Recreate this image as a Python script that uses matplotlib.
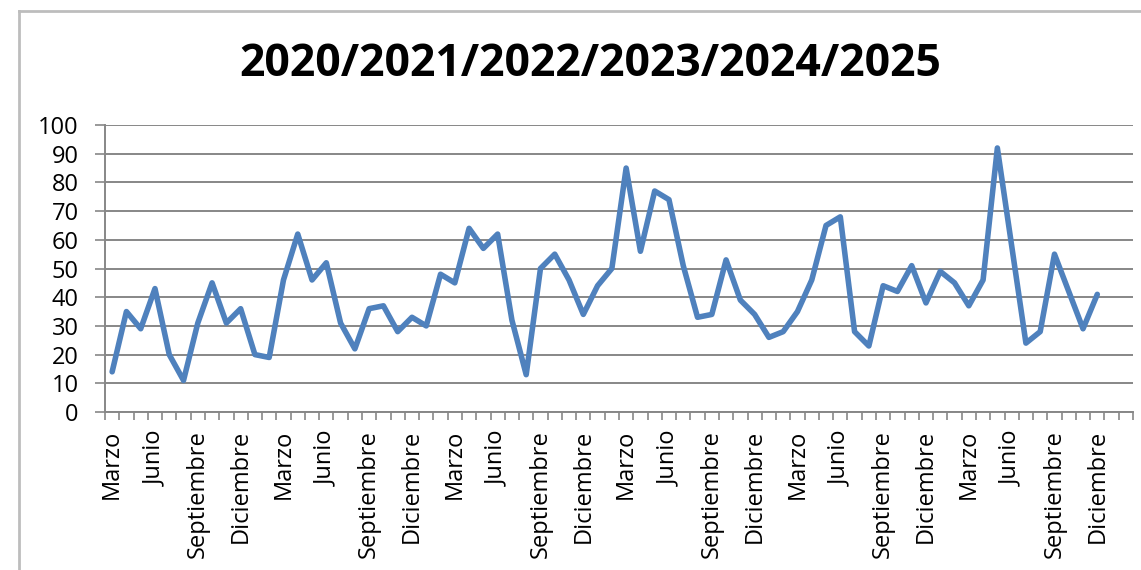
#!/usr/bin/env python3
"""
Monthly series 2020-2025, Excel-style line chart.
"""

import matplotlib
matplotlib.use('Agg')  # Use non-interactive backend
import matplotlib.pyplot as plt
from matplotlib.lines import Line2D

# Data: one value per month, Marzo 2020 .. Diciembre 2025
values = [14, 35, 29, 43, 20, 11, 31, 45, 31, 36, 20, 19,
          46, 62, 46, 52, 31, 22, 36, 37, 28, 33, 30, 48,
          45, 64, 57, 62, 32, 13, 50, 55, 46, 34, 44, 50,
          85, 56, 77, 74, 51, 33, 34, 53, 39, 34, 26, 28,
          35, 46, 65, 68, 28, 23, 44, 42, 51, 38, 49, 45,
          37, 46, 92, 58, 24, 28, 55, 42, 29, 41]
n_categories = 72  # axis keeps two empty months at the end
tick_labels = ["Marzo", "Junio", "Septiembre", "Diciembre"] * 6
y_ticks = [0, 10, 20, 30, 40, 50, 60, 70, 80, 90, 100]
title = "2020/2021/2022/2023/2024/2025"

LINE_COLOR = '#4F81BD'
GRID_COLOR = '#878787'
FONT = 'Open Sans'

fig = plt.figure(figsize=(11.41, 5.70), dpi=100)
ax = fig.add_axes([105 / 1141, 1 - 412 / 570, (1133 - 105) / 1141, (412 - 125) / 570])

ax.plot(range(len(values)), values, color=LINE_COLOR, linewidth=4.0,
        solid_joinstyle='round', solid_capstyle='round', zorder=3)

ax.set_xlim(-0.5, n_categories - 0.5)
ax.set_ylim(0, 100)

# y axis
ax.set_yticks(y_ticks)
ax.set_yticklabels([str(v) for v in y_ticks], fontsize=17, family=FONT)
ax.yaxis.grid(True, color=GRID_COLOR, linewidth=1.4)
ax.set_axisbelow(True)

# x axis: tick marks at category boundaries, labels every third month
ax.set_xticks([i - 0.5 for i in range(n_categories + 1)])
ax.set_xticklabels([])
ax.set_xticks(list(range(0, len(values), 3)), minor=True)
ax.set_xticklabels(tick_labels, minor=True, rotation=90, fontsize=17,
                   family=FONT, va='top', ha='center')
ax.tick_params(axis='x', which='major', length=6, width=1.2, color=GRID_COLOR)
ax.tick_params(axis='x', which='minor', length=0, pad=13)
ax.tick_params(axis='y', length=7, width=1.2, color=GRID_COLOR, pad=12)

for side in ['top', 'right']:
    ax.spines[side].set_visible(False)
for side in ['left', 'bottom']:
    ax.spines[side].set_color(GRID_COLOR)
    ax.spines[side].set_linewidth(1.4)

fig.text(590 / 1141, 1 - 64 / 570, title, ha='center', va='center',
         fontsize=32, fontweight='bold', family=FONT)

# chart border (left and top edges visible)
bx, by = 19 / 1141, 1 - 11 / 570
fig.add_artist(Line2D([bx, bx], [0, by], color='#BDBDBD', linewidth=2.0))
fig.add_artist(Line2D([bx, 1], [by, by], color='#BDBDBD', linewidth=2.0))

plt.savefig('out.png', dpi=100)
plt.close()
